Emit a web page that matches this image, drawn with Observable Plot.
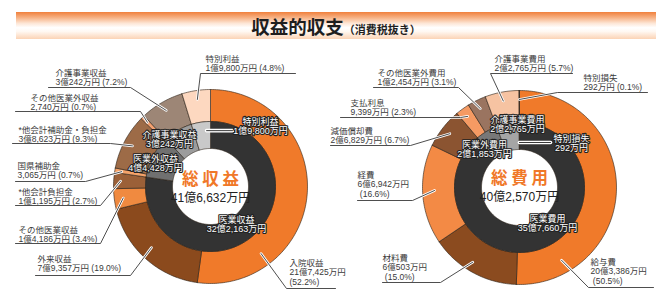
<!DOCTYPE html>
<html><head><meta charset="utf-8">
<script src="https://cdn.jsdelivr.net/npm/d3@7"></script>
<script src="https://cdn.jsdelivr.net/npm/@observablehq/plot@0.6"></script>
<style>
html,body{margin:0;padding:0;background:#fff;}
body{width:671px;height:294px;overflow:hidden;font-family:"Noto Sans CJK JP",sans-serif;}
#head{height:40px;box-sizing:border-box;padding:12px 15px 1px 16px;}
#banner{height:27px;background:linear-gradient(to bottom,#f0803c 0%,#f7b488 22%,#fde6d6 42%,#ffffff 58%,#fff8f2 72%,#fbd3b5 100%);text-align:center;line-height:29px;color:#1e1e1e;}
#banner .t1{font-size:18.5px;font-weight:bold;}
#banner .t2{font-size:11px;font-weight:bold;}
#chart svg{display:block;}
</style></head>
<body>
<div id="head"><div id="banner"><span class="t1">収益的収支</span><span class="t2">（消費税抜き）</span></div></div>
<div id="chart"></div>
<script>
// ---------- data ----------
const leftTitle = "総収益";
const leftTotal = 416632; // 万円
const leftNames = ["入院収益","外来収益","その他医業収益","*他会計負担金","国県補助金","*他会計補助金・負担金","その他医業外収益","介護事業収益","特別利益"];
const leftValues = [217425,79357,14186,11195,3065,38623,2740,30242,19800];
const leftPct = [52.2,19.0,3.4,2.7,0.7,9.3,0.7,7.2,4.8];
const leftInnerNames = ["医業収益","医業外収益","介護事業収益","特別利益"];
const leftInnerValues = [322163,44428,30242,19800];

const rightTitle = "総費用";
const rightTotal = 402570;
const rightNames = ["給与費","材料費","経費","減価償却費","支払利息","その他医業外費用","介護事業費用","特別損失"];
const rightValues = [203386,60503,66942,26829,9399,12454,22765,292];
const rightPct = [50.5,15.0,16.6,6.7,2.3,3.1,5.7,0.1];
const rightInnerNames = ["医業費用","医業外費用","介護事業費用","特別損失"];
const rightInnerValues = [357660,21853,22765,292];

// ---------- styles / layout ----------
const leftColors = ["#f07a2a","#8b4a1d","#f08a40","#9b6038","#f5a36a","#9d6b47","#f3a070","#9d8676","#fdd8c0"];
const leftInnerColors = ["#333333","#707070","#9c9c9c","#c9c9c9"];
const rightColors = ["#f07a2a","#8b4b1f","#f38a45","#8b5431","#f59a63","#9a7460","#f6c3a2","#8a6a5a"];
const rightInnerColors = ["#333333","#787878","#a5a5a5","#cccccc"];
const LABEL_FONT = '"Liberation Sans", "Noto Sans CJK JP", sans-serif';

const donutL = {cx:210, cy:186, r0:38, r1:65, r2:97};
const donutR = {cx:519, cy:187, r0:38, r1:65, r2:97};
const LINE = 9.5; // px between label lines
const FS = 8.5;

// label layout: text x / first-line y, line count, elbow point, far end x, anchor angle/radius
const leftLayout = [
  {tx:289, ty:262, n:3, ex:286, ey:288, fx:335, ang:143, r:84},
  {tx:37,  ty:258, n:2, ex:130, ey:275, fx:35,  ang:224, r:85},
  {tx:18,  ty:229, n:2, ex:100, ey:243, fx:15,  ang:262.5, r:88},
  {tx:18,  ty:191, n:2, ex:100, ey:205, fx:15,  ang:273.5, r:90},
  {tx:17,  ty:165, n:2, ex:85,  ey:181, fx:15,  ang:279.5, r:90},
  {tx:18,  ty:129, n:2, ex:110, ey:143, fx:12,  ang:297.5, r:88},
  {tx:30,  ty:97,  n:2, ex:140, ey:111, fx:15,  ang:315.5, r:90},
  {tx:55,  ty:72,  n:2, ex:130, ey:87,  fx:48,  ang:329.8, r:88},
  {tx:205, ty:58,  n:2, ex:200, ey:73,  fx:295, ang:351.4, r:88}
];
const rightLayout = [
  {tx:590, ty:261, n:3, ex:588, ey:287, fx:653, ang:150, r:84, ind:true},
  {tx:382, ty:257, n:3, ex:440, ey:282, fx:382, ang:212, r:88, ind:true},
  {tx:357, ty:174, n:3, ex:412, ey:200, fx:357, ang:268, r:85, ind:true},
  {tx:330, ty:130, n:2, ex:410, ey:145, fx:330, ang:307.7, r:88},
  {tx:350, ty:102, n:2, ex:460, ey:117, fx:340, ang:323.9, r:88},
  {tx:377, ty:72,  n:2, ex:458, ey:87,  fx:373, ang:333.6, r:88},
  {tx:494, ty:58,  n:2, ex:490, ey:73,  fx:572, ang:349.4, r:88},
  {tx:583, ty:77,  n:2, ex:557, ey:92,  fx:647, ang:359.8, r:88}
];
const leftInnerLayout = [
  {x:236, y:219}, {x:155, y:158}, {x:169, y:134}, {x:260, y:121, lead:{ang:356, r:56, x2:232}}
];
const rightInnerLayout = [
  {x:547, y:218}, {x:484, y:144}, {x:517, y:119}, {x:571, y:138, lead:{ang:359.9, r:45, x2:550}}
];

// ---------- helpers ----------
const fmtC = d3.format(",");
function yen(v){ const oku = Math.floor(v/10000), man = v % 10000; return (oku ? oku + "億" : "") + fmtC(man) + "万円"; }
const rad = a => a * Math.PI / 180;
const pt = (d, ang, r) => [d.cx + r*Math.sin(rad(ang)), d.cy - r*Math.cos(rad(ang))];

function ring(values, colors, prefix, d, rin, rout){
  const total = d3.sum(values); let acc = 0; const out = [];
  values.forEach((v, i) => {
    const a0 = acc/total*360, a1 = (acc+v)/total*360; acc += v;
    const n = Math.max(2, Math.ceil((a1-a0)/1.2));
    const poly = [];
    for (let k=0;k<=n;k++) poly.push(pt(d, a0+(a1-a0)*k/n, rout));
    for (let k=n;k>=0;k--) poly.push(pt(d, a0+(a1-a0)*k/n, rin));
    poly.push(poly[0]);
    poly.forEach(([x,y]) => out.push({x, y, key: prefix+i, color: colors[i]}));
  });
  return out;
}

const slices = [
  ...ring(leftValues, leftColors, "LO", donutL, donutL.r1, donutL.r2),
  ...ring(leftInnerValues, leftInnerColors, "LI", donutL, donutL.r0, donutL.r1),
  ...ring(rightValues, rightColors, "RO", donutR, donutR.r1, donutR.r2),
  ...ring(rightInnerValues, rightInnerColors, "RI", donutR, donutR.r0, donutR.r1)
];

const leaders = [], labels = [];
function outerLabels(names, values, pct, layout, d, prefix){
  names.forEach((nm, i) => {
    const L = layout[i];
    const [ax, ay] = pt(d, L.ang, L.r);
    [[ax,ay],[L.ex,L.ey],[L.fx,L.ey]].forEach(([x,y]) => leaders.push({x, y, key: prefix+i}));
    const p = "(" + d3.format(".1f")(pct[i]) + "%)";
    const lines = L.n === 3 ? [nm, yen(values[i]), (L.ind ? " " : "") + p] : [nm, yen(values[i]) + " " + p];
    labels.push({x: L.tx, y: L.ty + (lines.length - 1) * LINE / 2, text: lines.join("\n")});
  });
}
outerLabels(leftNames, leftValues, leftPct, leftLayout, donutL, "L");
outerLabels(rightNames, rightValues, rightPct, rightLayout, donutR, "R");

const innerLabelsData = [], innerLeads = [];
function innerLabels(names, values, layout, d, prefix){
  names.forEach((nm, i) => {
    const L = layout[i];
    innerLabelsData.push({x: L.x, y: L.y + LINE / 2, text: nm + "\n" + yen(values[i])});
    if (L.lead) {
      const [ax, ay] = pt(d, L.lead.ang, L.lead.r);
      innerLeads.push({x: ax, y: ay, key: prefix+i}, {x: L.lead.x2, y: ay, key: prefix+i});
    }
  });
}
innerLabels(leftInnerNames, leftInnerValues, leftInnerLayout, donutL, "L");
innerLabels(rightInnerNames, rightInnerValues, rightInnerLayout, donutR, "R");

const centers = [
  {x: donutL.cx, y: donutL.cy - 7, title: leftTitle.split("").join(" "), total: yen(leftTotal)},
  {x: donutR.cx, y: donutR.cy - 9, title: rightTitle.split("").join(" "), total: yen(rightTotal)}
];

const chart = Plot.plot({
  width: 671, height: 254, margin: 0,
  x: {domain: [0, 671], axis: null},
  y: {domain: [294, 40], axis: null},
  color: {type: "identity"},
  style: {fontFamily: '"Noto Sans CJK JP", sans-serif', background: "transparent", overflow: "visible"},
  marks: [
    Plot.line(slices, {x: "x", y: "y", z: "key", fill: "color", stroke: "#2b2118", strokeWidth: 0.6, curve: "linear"}),
    Plot.line(leaders, {x: "x", y: "y", z: "key", stroke: "white", strokeWidth: 2.6, curve: "linear"}),
    Plot.line(leaders, {x: "x", y: "y", z: "key", stroke: "#3a3a3a", strokeWidth: 0.9, curve: "linear"}),
    Plot.line(innerLeads, {x: "x", y: "y", z: "key", stroke: "white", strokeWidth: 3.6, curve: "linear"}),
    Plot.line(innerLeads, {x: "x", y: "y", z: "key", stroke: "#222", strokeWidth: 0.9, curve: "linear"}),
    Plot.text(labels, {x: "x", y: "y", text: "text", textAnchor: "start", fontSize: FS, fontFamily: LABEL_FONT, lineHeight: LINE / FS, fill: "#3a3a3a"}),
    Plot.text(innerLabelsData, {x: "x", y: "y", text: "text", fontSize: 9, fontFamily: LABEL_FONT, lineHeight: LINE / 9, fill: "white", stroke: "#222", strokeWidth: 2.2, paintOrder: "stroke"}),
    Plot.text(centers, {x: "x", y: "y", text: "title", fontSize: 16.5, fontWeight: "bold", fill: "#f07828"}),
    Plot.text(centers, {x: "x", y: d => d.y + 19, text: "total", fontSize: 12, fontFamily: LABEL_FONT, fill: "#222"})
  ]
});
document.getElementById("chart").append(chart);
</script>
</body></html>
